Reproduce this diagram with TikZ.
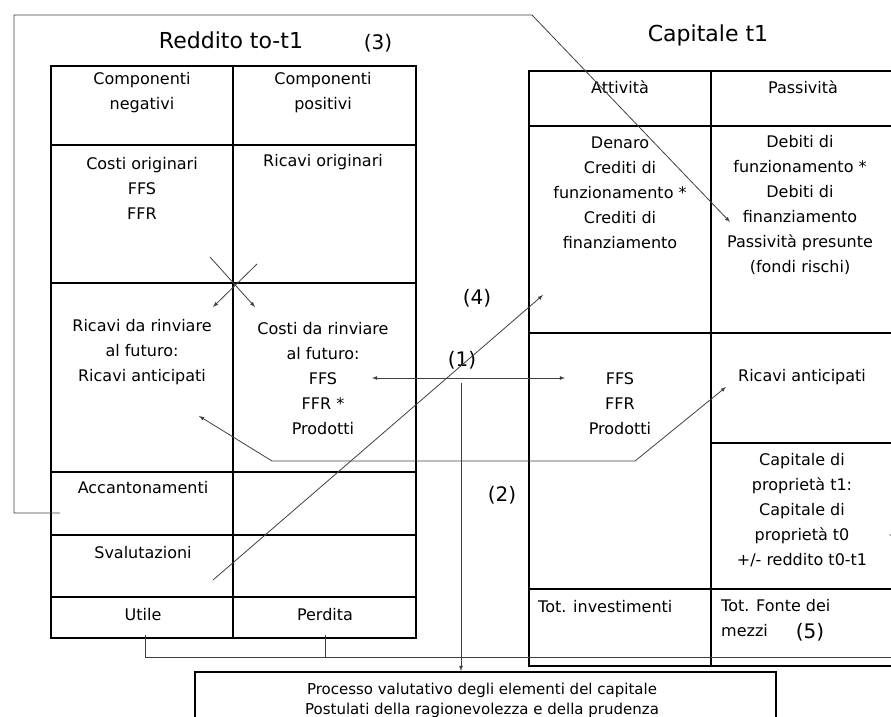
\documentclass[tikz,border=0pt]{standalone}
\usepackage{fontspec}
\setmainfont{DejaVu Sans}
\begin{document}
\begin{tikzpicture}[x=1pt,y=-1pt,
		font=\fontsize{16}{25}\selectfont,
		cell/.style={align=center,inner sep=0pt},
		title/.style={inner sep=0pt,font=\fontsize{22}{26}\selectfont},
		numlabel/.style={inner sep=0pt,font=\fontsize{20}{24}\selectfont},
		outerline/.style={line width=2.2pt},
		innerline/.style={line width=1.5pt},
		conn/.style={line width=0.8pt,black!75}]
	\useasboundingbox (0,0) rectangle (891,717);
	\clip (0,0) rectangle (891,717);
	% conto economico
	\draw[outerline] (51,66) rectangle (416,638);
	\draw[innerline] (233,66) -- (233,638);
	\draw[innerline] (51,145) -- (416,145);
	\draw[innerline] (51,283) -- (416,283);
	\draw[innerline] (51,472) -- (416,472);
	\draw[innerline] (51,535) -- (416,535);
	\draw[innerline] (51,597) -- (416,597);
	% stato patrimoniale
	\draw[outerline] (529,71) rectangle (910,666);
	\draw[innerline] (711,71) -- (711,666);
	\draw[innerline] (529,126) -- (910,126);
	\draw[innerline] (529,333) -- (910,333);
	\draw[innerline] (711,443) -- (910,443);
	\draw[innerline] (529,589) -- (910,589);
	% processo valutativo
	\draw[line width=1.2pt] (195,672) rectangle (776,740);
	\path
		  (231,40)  node[title] (redd)     {Reddito to-t1}
		  (378,43)  node[numlabel] (n3)    {(3)}
		  (708,35)  node[title] (capt)     {Capitale t1}
		  (142,93)  node[cell] (neg)       {Componenti\\negativi}
		  (323,93)  node[cell] (pos)       {Componenti\\positivi}
		  (142,188) node[cell] (costi)     {Costi originari\\FFS\\FFR}
		  (323,162) node[cell] (ricavi)    {Ricavi originari}
		  (142,352) node[cell] (rinvric)   {Ricavi da rinviare\\al futuro:\\Ricavi anticipati}
		  (323,379) node[cell] (rinvcos)   {Costi da rinviare\\al futuro:\\FFS\\FFR *\\Prodotti}
		  (143,488) node[cell] (acc)       {Accantonamenti}
		  (143,553) node[cell] (sval)      {Svalutazioni}
		  (143,615) node[cell] (utile)     {Utile}
		  (325,615) node[cell] (perdita)   {Perdita}
		  (620,87)  node[cell] (att)       {Attività}
		  (803,87)  node[cell] (pas)       {Passività}
		  (620,193) node[cell] (attcorr)   {Denaro\\Crediti di\\funzionamento *\\Crediti di\\finanziamento}
		  (800,205) node[cell] (pascorr)   {Debiti di\\funzionamento *\\Debiti di\\finanziamento\\Passività presunte\\(fondi rischi)}
		  (620,404) node[cell] (attrinv)   {FFS\\FFR\\Prodotti}
		  (802,377) node[cell] (ricant)    {Ricavi anticipati}
		  (802,510) node[cell] (capprop)   {Capitale di\\proprietà t1:\\Capitale di\\proprietà t0\\+/- reddito t0-t1}
		  (538,607) node[cell,anchor=west] (totinv) {Tot. investimenti}
		  (721,618) node[cell,anchor=west,align=left] (totfonte) {Tot. Fonte dei\\mezzi}
		  (810,632) node[numlabel] (n5)    {(5)}
		  (462,360) node[numlabel] (n1)    {(1)}
		  (502,495) node[numlabel] (n2)    {(2)}
		  (477,298) node[numlabel] (n4)    {(4)}
		  (482,700) node[cell,font=\fontsize{15}{20}\selectfont] (proc)
			{Processo valutativo degli elementi del capitale\\Postulati della ragionevolezza e della prudenza}
	;
	\path
		  (60,513)  coordinate (accout)
		  (14,513)  coordinate (frameb)
		  (14,15)   coordinate (framet)
		  (532,15)  coordinate (framer)
		  (730,222) coordinate (fondi)
		  (210,257) coordinate (xa)
		  (255,307) coordinate (xb)
		  (257,264) coordinate (xc)
		  (213,307) coordinate (xd)
		  (372,378) coordinate (ffsl)
		  (565,378) coordinate (ffsr)
		  (461,383) coordinate (vtop)
		  (461,671) coordinate (proctop)
		  (213,580) coordinate (svalout)
		  (543,295) coordinate (attin)
		  (199,416) coordinate (ricl)
		  (272,461) coordinate (ricbl)
		  (635,461) coordinate (ricbr)
		  (726,387) coordinate (ricr)
		  (145,635) coordinate (utout)
		  (145,657) coordinate (utdown)
		  (325,635) coordinate (peout)
		  (325,657) coordinate (pedown)
		  (905,657) coordinate (farb)
		  (905,535) coordinate (fart)
		  (889,535) coordinate (capin)
	;
	\draw[-latex,conn] (accout) -- (frameb) -- (framet) -- (framer) -- (fondi);
	\draw[-latex,conn] (xa) -- (xb);
	\draw[-latex,conn] (xc) -- (xd);
	\draw[latex-latex,conn] (ffsl) -- (ffsr);
	\draw[-latex,conn] (vtop) -- (proctop);
	\draw[-latex,conn] (svalout) -- (attin);
	\draw[latex-latex,conn] (ricl) -- (ricbl) -- (ricbr) -- (ricr);
	\draw[conn] (peout) -- (pedown);
	\draw[-latex,conn] (utout) -- (utdown) -- (farb) -- (fart) -- (capin);
\end{tikzpicture}
\end{document}
